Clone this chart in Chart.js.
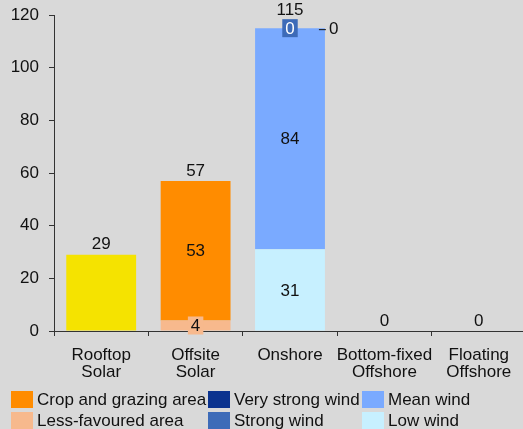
<!DOCTYPE html>
<html>
<head>
<meta charset="utf-8">
<script src="https://cdn.jsdelivr.net/npm/chart.js@4"></script>
<style>
  body { margin: 0; background: #d9d9d9; overflow: hidden; width: 523px; height: 429px; position: relative; }
  #wrap { position: absolute; left: 0; top: 0; width: 531px; height: 429px; }
  .legend { position: absolute; font: 17px 'Liberation Sans', Arial, sans-serif; color: #111; }
  .item { position: absolute; white-space: nowrap; line-height: 17px; }
  .item span.box { position: absolute; left: 0; top: 0; width: 22px; height: 17px; }
  .item span.txt { position: absolute; top: 0; }
</style>
</head>
<body>
<div id="wrap"><canvas id="chart"></canvas></div>
<div class="legend" id="legend"></div>
<script>
// Categories and values
const categories = [['Rooftop', 'Solar'], ['Offsite', 'Solar'], 'Onshore', ['Bottom-fixed', 'Offshore'], ['Floating', 'Offshore']];
const rooftopSolar = [29, null, null, null, null];
const lessFavoured = [null, 4, null, null, null];
const cropGrazing = [null, 53, null, null, null];
const lowWind = [null, null, 31, null, null];
const meanWind = [null, null, 84, null, null];
const strongWind = [null, null, 0, null, null];
const veryStrongWind = [null, null, 0, null, null];
const totals = [29, 57, 115, 0, 0];
const yTicks = [0, 20, 40, 60, 80, 100, 120];

const FONT = "'Liberation Sans', Arial, sans-serif";
const TEXT = '#111111';

// Legend layout (column-major like the original)
const legendItems = [
    { label: 'Crop and grazing area', color: '#FF8C00', x: 11, y: 391 },
    { label: 'Less-favoured area', color: '#F7B98D', x: 11, y: 412 },
    { label: 'Very strong wind', color: '#0B338F', x: 208, y: 391 },
    { label: 'Strong wind', color: '#3D6BB8', x: 208, y: 412 },
    { label: 'Mean wind', color: '#7AAAFF', x: 362, y: 391 },
    { label: 'Low wind', color: '#C7F0FF', x: 362, y: 412 }
];

function buildLegend() {
    const legend = document.getElementById('legend');
    legendItems.forEach(item => {
        const div = document.createElement('div');
        div.className = 'item';
        div.style.left = item.x + 'px';
        div.style.top = item.y + 'px';
        div.innerHTML = `<span class="box" style="background:${item.color}"></span><span class="txt" style="left:26px">${item.label}</span>`;
        legend.appendChild(div);
    });
}

// Draws the value labels: inside segments, boxed, side and totals
const valueLabels = {
    id: 'valueLabels',
    afterDatasetsDraw(chart) {
        const ctx = chart.ctx;
        const boxes = [];
        ctx.save();
        ctx.font = '17px ' + FONT;
        ctx.textAlign = 'center';
        ctx.textBaseline = 'middle';

        chart.data.datasets.forEach((ds, di) => {
            if (!ds.labelMode) return;
            const meta = chart.getDatasetMeta(di);
            meta.data.forEach((bar, i) => {
                const v = ds.data[i];
                if (v === null || v === undefined) return;
                const cy = (bar.y + bar.base) / 2;
                const text = String(v);
                if (ds.labelMode === 'plain') {
                    ctx.fillStyle = TEXT;
                    ctx.fillText(text, bar.x, cy + 1);
                } else if (ds.labelMode === 'box') {
                    const w = ctx.measureText(text).width + 6;
                    const h = 18;
                    ctx.fillStyle = ds.backgroundColor;
                    ctx.fillRect(bar.x - w / 2, cy - h / 2, w, h);
                    boxes.push({ left: bar.x - w / 2, right: bar.x + w / 2, top: cy - h / 2, bottom: cy + h / 2 });
                    ctx.fillStyle = ds.labelColor || TEXT;
                    ctx.fillText(text, bar.x, cy + 1);
                } else if (ds.labelMode === 'side') {
                    const right = bar.x + bar.width / 2;
                    ctx.strokeStyle = TEXT;
                    ctx.lineWidth = 1;
                    ctx.beginPath();
                    ctx.moveTo(right - 6, cy + 1.5);
                    ctx.lineTo(right + 1, cy + 1.5);
                    ctx.stroke();
                    ctx.fillStyle = TEXT;
                    ctx.textAlign = 'left';
                    ctx.fillText(text, right + 4, cy + 1);
                    ctx.textAlign = 'center';
                }
            });
        });

        // Totals above the bars, pushed up when a boxed label is in the way
        const xs = chart.scales.x;
        const ys = chart.scales.y;
        ctx.fillStyle = TEXT;
        totals.forEach((t, i) => {
            const x = xs.getPixelForValue(i);
            let y = ys.getPixelForValue(t) - 10;
            const half = ctx.measureText(String(t)).width / 2;
            boxes.forEach(b => {
                if (x + half > b.left && x - half < b.right && y + 8 > b.top && y - 8 < b.bottom) {
                    y = b.top - 9;
                }
            });
            ctx.fillText(String(t), x, y);
        });
        ctx.restore();
    }
};

function createChart() {
    const ctx = document.getElementById('chart').getContext('2d');
    new Chart(ctx, {
        type: 'bar',
        data: {
            labels: categories,
            datasets: [
                { label: 'Rooftop Solar', data: rooftopSolar, backgroundColor: '#F5E300' },
                { label: 'Less-favoured area', data: lessFavoured, backgroundColor: '#F7B98D', labelMode: 'box' },
                { label: 'Crop and grazing area', data: cropGrazing, backgroundColor: '#FF8C00', labelMode: 'plain' },
                { label: 'Low wind', data: lowWind, backgroundColor: '#C7F0FF', labelMode: 'plain' },
                { label: 'Mean wind', data: meanWind, backgroundColor: '#7AAAFF', labelMode: 'plain' },
                { label: 'Strong wind', data: strongWind, backgroundColor: '#3D6BB8', labelMode: 'box', labelColor: '#ffffff' },
                { label: 'Very strong wind', data: veryStrongWind, backgroundColor: '#0B338F', labelMode: 'side' }
            ]
        },
        options: {
            responsive: true,
            maintainAspectRatio: false,
            animation: false,
            layout: { padding: { top: 15, right: 5, left: 0, bottom: 0 } },
            datasets: { bar: { categoryPercentage: 1, barPercentage: 0.74, borderWidth: 0 } },
            plugins: { legend: { display: false }, tooltip: { enabled: false } },
            scales: {
                x: {
                    stacked: true,
                    offset: true,
                    border: { color: '#333333', width: 1 },
                    grid: { display: true, drawOnChartArea: false, offset: true, tickLength: 5, color: '#333333' },
                    ticks: { color: TEXT, font: { family: FONT, size: 17, lineHeight: 1.05 }, padding: 10, maxRotation: 0, autoSkip: false },
                    afterFit: scale => { scale.height = 98; scale.paddingLeft = 0; scale.paddingRight = 0; }
                },
                y: {
                    stacked: true,
                    min: yTicks[0],
                    max: yTicks[yTicks.length - 1],
                    border: { color: '#333333', width: 1 },
                    grid: { display: true, drawOnChartArea: false, tickLength: 5, color: '#333333' },
                    ticks: { stepSize: 20, color: TEXT, font: { family: FONT, size: 17 }, padding: 10 },
                    afterFit: scale => { scale.width = 54; scale.paddingTop = 0; scale.paddingBottom = 0; }
                }
            }
        },
        plugins: [valueLabels]
    });
}

document.addEventListener('DOMContentLoaded', () => {
    buildLegend();
    createChart();
});
</script>
</body>
</html>
